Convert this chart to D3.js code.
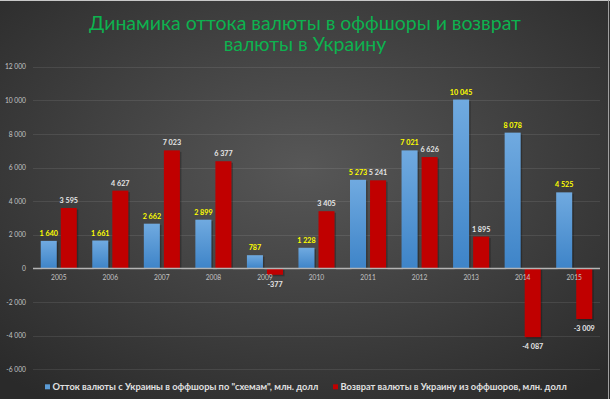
<!DOCTYPE html>
<html><head><meta charset="utf-8">
<script src="https://cdn.jsdelivr.net/npm/d3@7"></script>
<style>html,body{margin:0;padding:0;background:#333;}svg{display:block;}</style>
</head><body>
<svg id="chart" width="610" height="399"></svg>
<script>
const years = ["2005","2006","2007","2008","2009","2010","2011","2012","2013","2014","2015"];
const outflow = [1640,1661,2662,2899,787,1228,5273,7021,10045,8078,4525];
const returnFlow = [3595,4627,7023,6377,-377,3405,5241,6626,1895,-4087,-3009];
const yTicks = [-6000,-4000,-2000,0,2000,4000,6000,8000,10000,12000];
const seriesNames = ["Отток валюты с Украины в оффшоры по \"схемам\", млн. долл","Возврат валюты в Украину из оффшоров, млн. долл"];
const titleLines = ["Динамика оттока валюты в оффшоры и возврат","валюты в Украину"];

const svg = d3.select("#chart");
const W = 610, H = 399;
const defs = svg.append("defs");
const rg = defs.append("radialGradient").attr("id","bg").attr("cx","50%").attr("cy","42%").attr("r","72%");
rg.append("stop").attr("offset","0%").attr("stop-color","#575757");
rg.append("stop").attr("offset","100%").attr("stop-color","#2a2a2a");
const bg = defs.append("linearGradient").attr("id","blueGrad").attr("x1",0).attr("y1",0).attr("x2",0).attr("y2",1);
bg.append("stop").attr("offset","0%").attr("stop-color","#70aae0");
bg.append("stop").attr("offset","100%").attr("stop-color","#3e84c8");

svg.append("rect").attr("width",W).attr("height",H).attr("fill","url(#bg)");
svg.append("line").attr("x1",0).attr("x2",W).attr("y1",0.5).attr("y2",0.5).attr("stroke","#c8c8c8");
svg.append("line").attr("x1",608.5).attr("x2",608.5).attr("y1",0).attr("y2",H).attr("stroke","#a0a0a0");

const fontFam = "Lato, 'Open Sans', sans-serif";

function fitText(sel, target){
  const base = parseFloat(sel.attr("font-size"));
  const len = sel.node().getComputedTextLength();
  sel.attr("font-size", base*target/len);
}
// title
const t1 = svg.append("text").attr("x",305).attr("y",30).attr("text-anchor","middle")
  .attr("font-family",fontFam).attr("font-size",20).attr("fill","#0db24f").text(titleLines[0]);
fitText(t1, 432);
svg.append("text").attr("x",305).attr("y",51).attr("text-anchor","middle")
  .attr("font-family",fontFam).attr("font-size",t1.attr("font-size")).attr("fill","#0db24f").text(titleLines[1]);

const y = d3.scaleLinear().domain([-6000,12000]).range([369.3,66.7]);
const x = d3.scaleBand().domain(years).range([33,600]).paddingInner(0.3).paddingOuter(0.15);
const xs = d3.scaleBand().domain([0,1]).range([0,x.bandwidth()]).paddingInner(0.2);

const fmt = v => d3.format(",")(v).replace(/,/g," ").replace("−","-");

// gridlines
svg.append("g").selectAll("line").data(yTicks.filter(d=>d!==0)).join("line")
  .attr("x1",33).attr("x2",600).attr("y1",d=>Math.round(y(d))+0.5).attr("y2",d=>Math.round(y(d))+0.5)
  .attr("stroke","#ffffff").attr("stroke-opacity",0.09).attr("stroke-width",1);

// y axis labels
const yAxis = d3.axisLeft(y).tickValues(yTicks).tickFormat(fmt).tickSize(0).tickPadding(0);
const ya = svg.append("g").attr("transform","translate(26,0)").call(yAxis);
ya.select(".domain").remove();
ya.selectAll("text").attr("font-family",fontFam).attr("font-size",6.7).attr("fill","#c4c4c4");

// bars
const data = years.map((yr,i)=>({yr, vals:[outflow[i], returnFlow[i]]}));
const groups = svg.append("g").selectAll("g").data(data).join("g")
  .attr("transform",d=>`translate(${x(d.yr)},0)`);
groups.selectAll("rect.sh").data(d=>d.vals.map((v,k)=>({v,k}))).join("rect").attr("class","sh")
  .attr("x",d=>xs(d.k)+1.5).attr("width",xs.bandwidth())
  .attr("y",d=>Math.min(y(d.v),y(0))+1.5).attr("height",d=>Math.abs(y(d.v)-y(0)))
  .attr("fill","#000").attr("opacity",0.25);
groups.selectAll("rect.bar").data(d=>d.vals.map((v,k)=>({v,k}))).join("rect").attr("class","bar")
  .attr("x",d=>xs(d.k)).attr("width",xs.bandwidth())
  .attr("y",d=>Math.min(y(d.v),y(0))).attr("height",d=>Math.abs(y(d.v)-y(0)))
  .attr("fill",d=>d.k===0?"url(#blueGrad)":"#c00000");

// zero line
svg.append("line").attr("x1",33).attr("x2",600).attr("y1",y(0)).attr("y2",y(0))
  .attr("stroke","#b4b4b4").attr("stroke-width",1.5);

// category labels
svg.append("g").selectAll("text").data(years).join("text")
  .attr("x",d=>x(d)+x.bandwidth()/2).attr("y",y(0)+12).attr("text-anchor","middle")
  .attr("font-family",fontFam).attr("font-size",6.7).attr("fill","#c4c4c4").text(d=>d);

// value labels
groups.selectAll("text.val").data(d=>d.vals.map((v,k)=>({v,k}))).join("text").attr("class","val")
  .attr("x",d=>xs(d.k)+xs.bandwidth()/2)
  .attr("y",d=>d.v>=0 ? y(d.v)-5 : y(d.v)+12)
  .attr("text-anchor","middle").attr("font-family",fontFam).attr("font-weight","bold")
  .attr("font-size",7.2).attr("fill",d=>d.k===0?"#ffff00":"#e6e6e6").text(d=>fmt(d.v));

// legend
const colors = ["#5b9bd5","#c00000"];
const legX = [45, 333];
const lg = svg.append("g").selectAll("g").data(seriesNames).join("g")
  .attr("transform",(d,i)=>`translate(${legX[i]},384.3)`);
lg.append("rect").attr("width",5).attr("height",5).attr("fill",(d,i)=>colors[i]);
lg.append("text").attr("x",7.5).attr("y",6).attr("font-family",fontFam).attr("font-weight","bold")
  .attr("font-size",9).attr("fill","#e0e0e0").text(d=>d);
const l1 = lg.filter((d,i)=>i===0).select("text");
const l1len = l1.node().getComputedTextLength();
lg.selectAll("text").attr("font-size", 9*266/l1len);
</script>
</body></html>
